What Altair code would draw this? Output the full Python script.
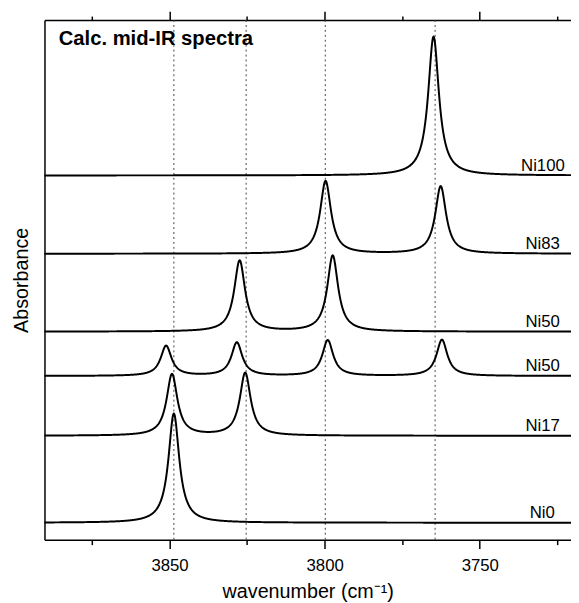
import altair as alt
import pandas as pd
import numpy as np

# ---- data ----
x_domain = [3890.3, 3720.6]          # wavenumber range shown (reversed axis)
y_domain = [0.0, 5.27]               # stacked absorbance (arbitrary units)

series_names = ["Ni0", "Ni17", "Ni50", "Ni50", "Ni83", "Ni100"]
series_offsets = [0.172, 1.054, 1.66, 2.11, 2.90, 3.694]
peak_positions = [
    [3848.6],
    [3849.2, 3825.6],
    [3851.1, 3828.3, 3799.0, 3762.2],
    [3827.4, 3797.4],
    [3799.7, 3762.6],
    [3764.9],
]
peak_heights = [
    [1.107],
    [0.623, 0.636],
    [0.305, 0.338, 0.362, 0.367],
    [0.72, 0.77],
    [0.737, 0.684],
    [1.408],
]
band_hwhm = 2.1                      # half width of the calculated Lorentzian bands (cm-1)
ref_lines = [3848.6, 3825.3, 3799.8, 3764.4]
major_ticks = [3850, 3800, 3750]
minor_ticks = [3875, 3825, 3775, 3725]
label_x = [3725.8, 3724.2, 3724.2, 3724.2, 3724.2, 3722.6]

# ---- build tables ----
grid = np.round(np.arange(x_domain[1], x_domain[0] + 0.001, 0.1), 2)
rows = []
for sid, (name, off, pos, hts) in enumerate(zip(series_names, series_offsets, peak_positions, peak_heights)):
    a = np.full_like(grid, off)
    for p, h in zip(pos, hts):
        a += h * band_hwhm ** 2 / ((grid - p) ** 2 + band_hwhm ** 2)
    rows.append(pd.DataFrame({"wn": grid, "A": a, "sid": sid}))
curves = pd.concat(rows, ignore_index=True)
labels = pd.DataFrame({"x": label_x, "y": series_offsets, "name": series_names})
refs = pd.DataFrame({"wn": ref_lines})

all_ticks = major_ticks + minor_ticks
tick_len_bottom = {"condition": {"test": "datum.value % 50 === 0", "value": 9}, "value": 5}
tick_len_top = {"condition": {"test": "datum.value % 50 === 0", "value": 9}, "value": 4}

xscale = alt.Scale(domain=x_domain, nice=False, zero=False)
yscale = alt.Scale(domain=y_domain, nice=False, zero=False)

lines = alt.Chart(curves).mark_line(color="black", strokeWidth=2).encode(
    x=alt.X("wn:Q", scale=xscale,
            axis=alt.Axis(orient="bottom", values=all_ticks, tickSize=tick_len_bottom,
                          format="d",
                          labelExpr="datum.value % 50 === 0 ? datum.label : ''",
                          title="wavenumber (cm⁻¹)", labelPadding=9, titlePadding=9,
                          grid=False)),
    y=alt.Y("A:Q", scale=yscale,
            axis=alt.Axis(title="Absorbance", ticks=False, labels=False, grid=False,
                          titlePadding=13)),
    detail="sid:N",
)

rules = alt.Chart(refs).mark_rule(color="#444444", strokeWidth=1, strokeDash=[2, 3]).encode(
    x=alt.X("wn:Q", scale=xscale,
            axis=alt.Axis(orient="top", values=all_ticks, tickSize=tick_len_top,
                          labels=False, title=None, grid=False)),
)

texts = alt.Chart(labels).mark_text(align="right", baseline="alphabetic", dy=-5,
                                    fontSize=17, font="Liberation Sans", color="black").encode(
    x=alt.X("x:Q", scale=xscale, axis=None),
    y=alt.Y("y:Q", scale=yscale, axis=None),
    text="name:N",
)

title = alt.Chart(pd.DataFrame({"t": ["Calc. mid-IR spectra"]})).mark_text(
    align="left", baseline="alphabetic", fontSize=20.5, fontWeight="bold",
    font="Liberation Sans", color="black").encode(
    x=alt.X(datum=3885.7, type="quantitative", scale=xscale, axis=None),
    y=alt.Y(datum=5.02, type="quantitative", scale=yscale, axis=None),
    text="t:N",
)

chart = alt.layer(rules, lines, texts, title).resolve_scale(x="shared", y="shared").resolve_axis(
    x="independent", y="independent"
).properties(
    width=534, height=527,
    autosize=alt.AutoSizeParams(type="none"),
    padding={"left": 37, "top": 8, "right": 0, "bottom": 60},
).configure_view(strokeWidth=0).configure_axis(
    domainColor="black", domainWidth=1.5, tickColor="black", tickWidth=1.5,
    labelFont="Liberation Sans", labelFontSize=17, labelColor="black",
    titleFont="Liberation Sans", titleFontSize=20, titleFontWeight="normal", titleColor="black",
)

chart.save("out.html", embed_options={"renderer": "svg", "actions": False})
